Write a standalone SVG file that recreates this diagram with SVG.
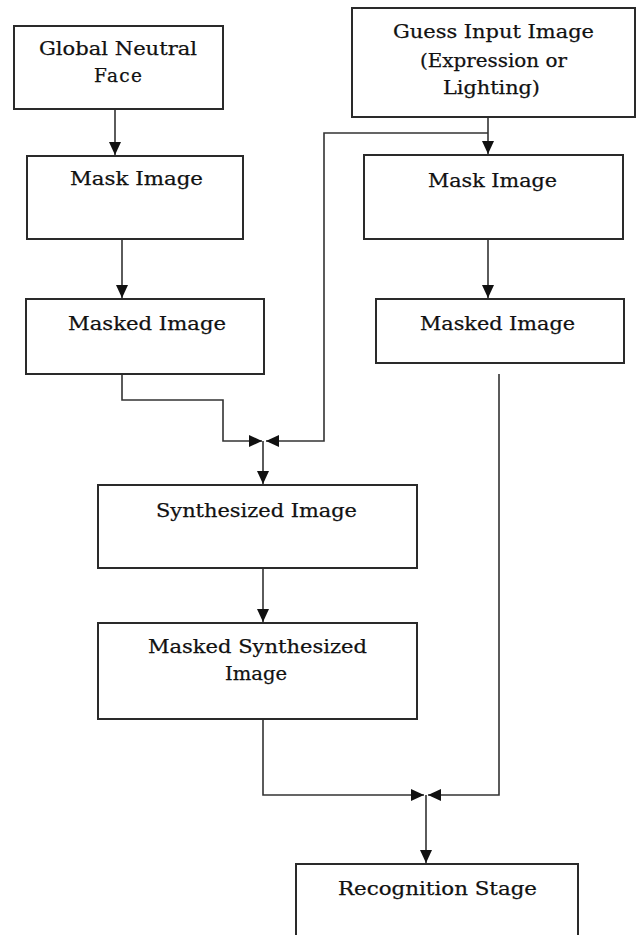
<svg xmlns="http://www.w3.org/2000/svg" width="642" height="935" viewBox="0 0 642 935">
  <style>
    .box { fill: #ffffff; stroke: #2a2a2a; stroke-width: 2; }
    .lbl { font-family: "DejaVu Serif", "Liberation Serif", serif; font-size: 18.5px; fill: #111111; stroke: #111111; stroke-width: 0.25; text-anchor: start; }
    .wire { fill: none; stroke: #333333; stroke-width: 1.6; }
  </style>
  <defs>
    <marker id="arrow" markerUnits="userSpaceOnUse" markerWidth="14" markerHeight="14" viewBox="0 0 14 14" refX="13" refY="7" orient="auto">
      <path d="M0,1 L13,7 L0,13 Z" fill="#111111"/>
    </marker>
  </defs>

  <rect width="642" height="935" fill="#ffffff"/>

  <!-- connectors -->
  <g id="connectors">
    <path class="wire" d="M115,109 V155" marker-end="url(#arrow)"/>
    <path class="wire" d="M122,239 V298" marker-end="url(#arrow)"/>
    <path class="wire" d="M488,117 V154" marker-end="url(#arrow)"/>
    <path class="wire" d="M488,133 H324 V441 H266" marker-end="url(#arrow)"/>
    <path class="wire" d="M488,239 V298" marker-end="url(#arrow)"/>
    <path class="wire" d="M122,374 V400 H223 V441 H262" marker-end="url(#arrow)"/>
    <path class="wire" d="M263,441 V484" marker-end="url(#arrow)"/>
    <path class="wire" d="M263,568 V622" marker-end="url(#arrow)"/>
    <path class="wire" d="M263,719 V795 H424" marker-end="url(#arrow)"/>
    <path class="wire" d="M499,374 V795 H428" marker-end="url(#arrow)"/>
    <path class="wire" d="M426,795 V863" marker-end="url(#arrow)"/>
  </g>

  <g id="global-neutral-face">
    <rect class="box" x="14" y="26" width="209" height="83"/>
    <text class="lbl" x="39" y="55" textLength="158" lengthAdjust="spacingAndGlyphs">Global Neutral</text>
    <text class="lbl" x="94" y="82" textLength="48" lengthAdjust="spacing">Face</text>
  </g>

  <g id="mask-image-left">
    <rect class="box" x="27" y="156" width="216" height="83"/>
    <text class="lbl" x="70" y="185" textLength="133" lengthAdjust="spacingAndGlyphs">Mask Image</text>
  </g>

  <g id="masked-image-left">
    <rect class="box" x="26" y="299" width="238" height="75"/>
    <text class="lbl" x="68" y="330" textLength="158" lengthAdjust="spacingAndGlyphs">Masked Image</text>
  </g>

  <g id="guess-input-image">
    <rect class="box" x="352" y="8" width="283" height="109"/>
    <text class="lbl" x="393" y="38" textLength="201" lengthAdjust="spacingAndGlyphs">Guess Input Image</text>
    <text class="lbl" x="420" y="67" textLength="147" lengthAdjust="spacingAndGlyphs">(Expression or</text>
    <text class="lbl" x="443" y="94" textLength="97" lengthAdjust="spacingAndGlyphs">Lighting)</text>
  </g>

  <g id="mask-image-right">
    <rect class="box" x="364" y="155" width="259" height="84"/>
    <text class="lbl" x="428" y="187" textLength="129" lengthAdjust="spacingAndGlyphs">Mask Image</text>
  </g>

  <g id="masked-image-right">
    <rect class="box" x="376" y="299" width="248" height="64"/>
    <text class="lbl" x="420" y="330" textLength="155" lengthAdjust="spacingAndGlyphs">Masked Image</text>
  </g>

  <g id="synthesized-image">
    <rect class="box" x="98" y="485" width="319" height="83"/>
    <text class="lbl" x="156" y="517" textLength="201" lengthAdjust="spacingAndGlyphs">Synthesized Image</text>
  </g>

  <g id="masked-synthesized-image">
    <rect class="box" x="98" y="623" width="319" height="96"/>
    <text class="lbl" x="148" y="653" textLength="219" lengthAdjust="spacingAndGlyphs">Masked Synthesized</text>
    <text class="lbl" x="225" y="680" textLength="62" lengthAdjust="spacingAndGlyphs">Image</text>
  </g>

  <g id="recognition-stage">
    <rect class="box" x="296" y="864" width="282" height="100"/>
    <text class="lbl" x="338" y="895" textLength="199" lengthAdjust="spacingAndGlyphs">Recognition Stage</text>
  </g>
</svg>
